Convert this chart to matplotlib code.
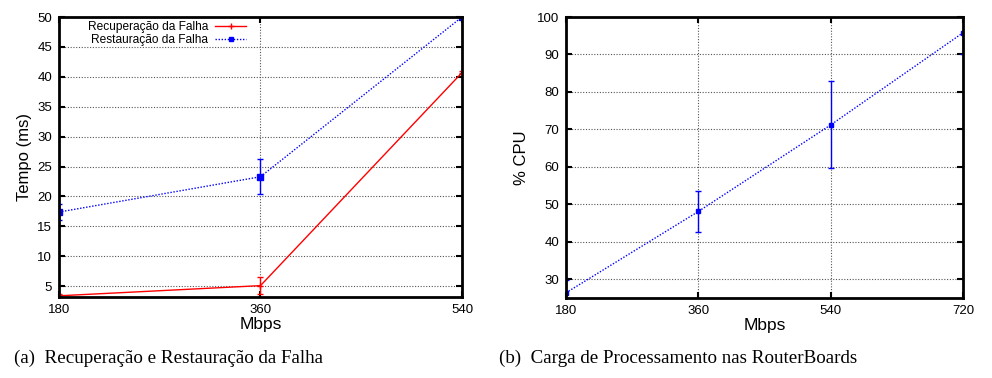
import matplotlib.pyplot as plt
from matplotlib.lines import Line2D
import numpy as np

plt.rcParams['font.family'] = ['Liberation Sans', 'DejaVu Sans']

# (a) falha
mbps_a = [180, 360, 540]
recup = [3.4, 5.1, 40.7]
recup_err = [0.3, 1.4, 0.3]
resta = [17.4, 23.3, 50.0]
resta_err = [1.3, 2.9, 0.3]

# (b) cpu
mbps_b = [180, 360, 540, 720]
cpu = [26.4, 48.1, 71.2, 95.8]
cpu_err = [3.5, 5.5, 11.6, 5.8]

DOT = (0, (1, 1.2))

fig = plt.figure(figsize=(9.92, 3.78), dpi=100)
ax1 = fig.add_axes([0.0595, 0.2143, 0.4062, 0.7407])
ax2 = fig.add_axes([0.5706, 0.2116, 0.4002, 0.7434])


def style(ax):
    ax.grid(True, color='#555555', linestyle=(0, (1, 1.5)), linewidth=0.8)
    for s in ax.spines.values():
        s.set_linewidth(2)
    ax.tick_params(direction='in', length=4, width=1.5, labelsize=9.5,
                   top=True, right=True, pad=5)
    ax.set_xlabel('Mbps', fontsize=12.5, labelpad=1)


ax1.errorbar(mbps_a, recup, yerr=recup_err, color='red', linestyle='-', linewidth=1,
             marker='+', markersize=5, capsize=2, elinewidth=1, clip_on=True)
ax1.errorbar(mbps_a, resta, yerr=resta_err, color='blue', linestyle=DOT, linewidth=1,
             marker='s', markersize=4, capsize=2, elinewidth=1)
ax1.set_xlim(180, 540)
ax1.set_ylim(3.2, 50)
ax1.set_xticks(mbps_a)
ax1.set_yticks(np.arange(5, 51, 5))
ax1.set_ylabel('Tempo (ms)', fontsize=12, labelpad=4)
style(ax1)
handles = [Line2D([], [], color='red', linestyle='-', linewidth=1, marker='+', markersize=5),
           Line2D([], [], color='blue', linestyle=DOT, linewidth=1, marker='s', markersize=3)]
leg = ax1.legend(handles, ['Recuperação da Falha', 'Restauração da Falha'],
                 loc='upper left', bbox_to_anchor=(0.05, 1.015), frameon=False, markerfirst=False,
                 fontsize=8.6, handlelength=2.6, handletextpad=0.6, labelspacing=0.1, borderpad=0.2)
leg._legend_box.align = 'right'
for t in leg.get_texts():
    t.set_ha('right')

ax2.errorbar(mbps_b, cpu, yerr=cpu_err, color='blue', linestyle=DOT, linewidth=1,
             marker='s', markersize=3.5, capsize=2, elinewidth=1)
ax2.set_xlim(180, 720)
ax2.set_ylim(25, 100)
ax2.set_xticks(mbps_b)
ax2.set_yticks(np.arange(30, 101, 10))
ax2.set_ylabel('% CPU', fontsize=12, labelpad=6)
style(ax2)

fig.text(0.014, 0.053, '(a)  Recuperação e Restauração da Falha', fontsize=13.7,
         family='Liberation Serif', ha='left', va='center')
fig.text(0.503, 0.053, '(b)  Carga de Processamento nas RouterBoards', fontsize=13.7,
         family='Liberation Serif', ha='left', va='center')

fig.savefig('out.png', dpi=100)
